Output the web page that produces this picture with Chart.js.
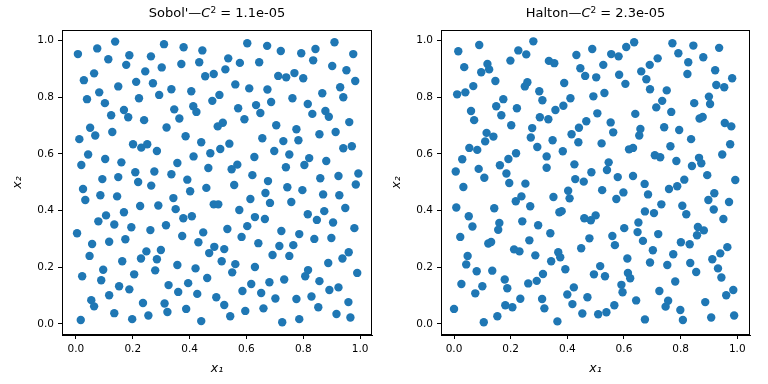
<!DOCTYPE html>
<html>
<head>
<meta charset="utf-8">
<script src="https://cdn.jsdelivr.net/npm/chart.js@4/dist/chart.umd.min.js"></script>
<style>
  html, body { margin: 0; padding: 0; background: #fff; }
  #wrap { position: relative; width: 768px; height: 384px; }
  canvas { position: absolute; top: 0; }
  #c1 { left: 0; }
  #c2 { left: 384px; }
</style>
</head>
<body>
<div id="wrap">
  <canvas id="c1" width="384" height="384"></canvas>
  <canvas id="c2" width="384" height="384"></canvas>
</div>
<script>
// ---- Data ----
const tickValues = [0.0, 0.2, 0.4, 0.6, 0.8, 1.0];

const sobolTitle = { name: "Sobol'", value: "1.1e-05" };
const haltonTitle = { name: "Halton", value: "2.3e-05" };

const sobolX = [
  0.138,0.075,0.007,0.310,0.188,0.114,0.264,0.177,0.302,0.244,0.064,0.028,0.212,0.271,0.149,0.082,0.293,0.039,0.222,0.102,
  0.169,0.124,0.184,0.240,0.319,0.050,0.068,0.012,0.128,0.201,0.230,0.251,0.285,0.043,0.103,0.019,0.160,0.209,0.276,0.093,
  0.149,0.219,
  0.379,0.445,0.603,0.673,0.371,0.434,0.536,0.577,0.645,0.455,0.485,0.526,0.336,0.406,0.561,0.610,0.674,0.505,0.480,0.413,
  0.424,0.346,0.364,0.571,0.634,0.649,0.687,0.593,0.517,0.499,0.386,0.441,0.656,0.540,0.508,0.473,0.414,0.628,0.357,0.466,
  0.548,0.568,0.336,0.392,0.621,0.557,0.676,
  0.721,0.793,0.843,0.910,0.976,0.835,0.902,0.952,0.983,0.712,0.740,0.769,0.800,0.930,0.867,0.941,0.762,0.816,0.832,0.878,
  0.890,0.962,0.705,0.776,0.857,0.914,0.730,0.783,0.698,0.751,0.941,0.971,0.821,0.804,0.881,0.739,0.860,0.924,0.994,0.985,
  0.265,0.025,0.033,0.086,0.145,0.226,0.290,0.106,0.079,0.169,0.135,0.195,0.262,0.317,0.004,0.057,0.117,0.174,0.048,0.163,
  0.229,0.248,0.285,0.299,0.096,0.022,0.089,0.205,0.279,0.152,0.188,0.326,0.117,0.054,0.064,0.236,0.312,0.322,0.135,0.198,
  0.255,0.017,
  0.459,0.402,0.343,0.351,0.485,0.501,0.614,0.667,0.683,0.575,0.378,0.408,0.630,0.665,0.603,0.533,0.448,0.374,0.431,0.583,
  0.642,0.487,0.469,0.522,0.692,0.513,0.561,0.550,0.630,0.357,0.421,0.462,0.395,0.360,0.427,0.617,0.586,0.652,0.681,0.494,
  0.522,0.388,0.543,0.596,0.660,0.441,
  0.744,0.797,0.870,0.927,0.758,0.948,0.816,0.848,0.874,0.905,0.980,0.723,0.786,0.839,0.899,0.716,0.765,0.751,0.960,0.938,
  0.888,0.817,0.807,0.990,0.733,0.857,0.892,0.924,0.702,0.776,0.829,0.959,0.853,0.917,0.966,0.726,0.786
];
const sobolY = [
  0.996,0.972,0.952,0.987,0.948,0.934,0.944,0.914,0.905,0.891,0.884,0.860,0.854,0.849,0.838,0.817,0.808,0.793,0.796,0.779,
  0.755,0.736,0.729,0.719,0.693,0.692,0.665,0.652,0.677,0.634,0.622,0.634,0.610,0.598,0.582,0.561,0.570,0.535,0.538,0.511,
  0.518,0.501,
  0.976,0.965,0.990,0.981,0.917,0.923,0.937,0.921,0.923,0.874,0.882,0.898,0.828,0.821,0.845,0.831,0.827,0.808,0.787,0.768,
  0.748,0.757,0.725,0.761,0.772,0.744,0.783,0.722,0.710,0.697,0.662,0.641,0.655,0.636,0.617,0.602,0.591,0.589,0.568,0.550,
  0.546,0.562,0.528,0.509,0.525,0.490,0.504,
  0.963,0.955,0.970,0.994,0.952,0.930,0.910,0.895,0.857,0.875,0.870,0.885,0.867,0.835,0.814,0.800,0.796,0.776,0.741,0.751,
  0.731,0.712,0.701,0.687,0.669,0.677,0.645,0.648,0.610,0.598,0.620,0.627,0.585,0.561,0.575,0.553,0.514,0.522,0.531,0.492,
  0.488,0.476,0.437,0.454,0.450,0.416,0.418,0.383,0.362,0.394,0.351,0.341,0.331,0.348,0.320,0.282,0.290,0.299,0.240,0.221,
  0.231,0.256,0.228,0.261,0.191,0.168,0.154,0.175,0.189,0.133,0.122,0.137,0.101,0.084,0.062,0.074,0.072,0.042,0.038,0.017,
  0.030,0.014,
  0.480,0.468,0.444,0.405,0.422,0.422,0.441,0.462,0.427,0.402,0.373,0.380,0.377,0.370,0.345,0.335,0.323,0.310,0.288,0.307,
  0.285,0.272,0.250,0.264,0.243,0.221,0.211,0.182,0.201,0.208,0.196,0.162,0.144,0.113,0.106,0.141,0.116,0.109,0.147,0.094,
  0.067,0.053,0.027,0.046,0.055,0.010,
  0.482,0.472,0.457,0.454,0.430,0.409,0.387,0.367,0.398,0.358,0.338,0.328,0.317,0.300,0.303,0.275,0.278,0.240,0.253,0.231,
  0.215,0.190,0.168,0.180,0.157,0.151,0.120,0.129,0.090,0.088,0.097,0.077,0.059,0.035,0.023,0.006,0.017
];

const haltonX = [
  0.089,0.015,0.280,0.227,0.255,0.199,0.036,0.118,0.124,0.096,0.146,0.259,0.250,0.068,0.040,0.011,0.301,0.312,0.174,0.149,
  0.222,0.060,0.167,0.071,0.303,0.202,0.276,0.115,0.139,0.110,0.271,0.054,0.082,0.294,0.029,0.219,0.192,0.162,0.087,0.006,
  0.185,0.107,0.327,0.327,0.195,0.252,
  0.488,0.608,0.636,0.432,0.555,0.581,0.335,0.354,0.527,0.446,0.463,0.502,0.583,0.605,0.661,0.679,0.389,0.692,0.492,0.531,
  0.411,0.386,0.358,0.333,0.506,0.640,0.467,0.553,0.441,0.658,0.562,0.654,0.415,0.348,0.439,0.521,0.618,0.632,0.384,0.425,
  0.546,0.540,0.485,0.578,0.632,0.428,0.458,0.673,
  0.771,0.845,0.936,0.792,0.880,0.719,0.691,0.827,0.824,0.922,0.982,0.751,0.926,0.954,0.900,0.904,0.848,0.735,0.714,0.767,
  0.867,0.878,0.956,0.979,0.742,0.795,0.837,0.975,0.764,0.947,0.709,0.728,0.785,0.865,0.873,0.840,0.894,0.813,0.993,
  0.033,0.008,0.142,0.218,0.238,0.269,0.052,0.065,0.160,0.156,0.241,0.297,0.022,0.121,0.131,0.266,0.212,0.231,0.287,0.048,
  0.043,0.080,0.135,0.314,0.179,0.188,0.026,0.100,0.075,0.262,0.292,0.234,0.311,0.181,0.206,0.000,0.319,0.153,0.105,
  0.523,0.403,0.351,0.408,0.573,0.598,0.685,0.372,0.380,0.460,0.483,0.500,0.674,0.340,0.478,0.601,0.559,0.568,0.651,0.648,
  0.667,0.449,0.343,0.368,0.375,0.692,0.393,0.494,0.516,0.533,0.612,0.614,0.622,0.591,0.595,0.423,0.400,0.471,0.643,0.418,
  0.566,0.453,0.509,0.538,0.365,0.674,
  0.759,0.788,0.732,0.706,0.806,0.820,0.919,0.898,0.917,0.971,0.951,0.861,0.882,0.858,0.721,0.801,0.832,0.702,0.774,0.753,
  0.834,0.855,0.965,0.940,0.912,0.932,0.944,0.781,0.725,0.986,0.961,0.756,0.747,0.887,0.799,0.808,0.908,0.989
];
const haltonY = [
  0.984,0.962,0.997,0.965,0.951,0.929,0.906,0.917,0.898,0.888,0.857,0.853,0.838,0.839,0.817,0.810,0.821,0.789,0.793,0.768,
  0.761,0.751,0.736,0.719,0.729,0.701,0.691,0.674,0.661,0.644,0.658,0.621,0.614,0.624,0.581,0.602,0.582,0.560,0.547,0.538,
  0.531,0.516,0.591,0.551,0.497,0.495,
  0.970,0.977,0.994,0.949,0.952,0.944,0.928,0.920,0.914,0.902,0.875,0.870,0.879,0.847,0.891,0.863,0.850,0.828,0.803,0.815,
  0.796,0.770,0.755,0.722,0.743,0.741,0.715,0.711,0.692,0.688,0.676,0.665,0.669,0.648,0.641,0.637,0.616,0.621,0.609,0.563,
  0.570,0.543,0.535,0.518,0.522,0.511,0.502,0.494,
  0.990,0.982,0.974,0.955,0.941,0.937,0.914,0.923,0.882,0.895,0.867,0.824,0.843,0.835,0.802,0.776,0.779,0.787,0.764,0.748,
  0.725,0.730,0.709,0.697,0.694,0.684,0.652,0.634,0.627,0.598,0.595,0.588,0.575,0.586,0.567,0.557,0.525,0.509,0.508,
  0.483,0.411,0.408,0.433,0.450,0.415,0.380,0.344,0.356,0.332,0.362,0.348,0.307,0.284,0.289,0.295,0.263,0.256,0.242,0.240,
  0.210,0.186,0.188,0.176,0.157,0.126,0.141,0.133,0.108,0.143,0.152,0.089,0.088,0.066,0.059,0.053,0.055,0.027,0.006,
  0.472,0.470,0.448,0.443,0.441,0.464,0.457,0.394,0.398,0.373,0.366,0.383,0.397,0.320,0.302,0.338,0.310,0.278,0.358,0.324,
  0.293,0.267,0.221,0.253,0.235,0.217,0.193,0.175,0.204,0.168,0.231,0.180,0.161,0.138,0.112,0.129,0.104,0.094,0.083,0.070,
  0.066,0.037,0.034,0.041,0.009,0.016,
  0.476,0.486,0.422,0.391,0.417,0.387,0.461,0.437,0.404,0.430,0.370,0.342,0.330,0.313,0.317,0.288,0.281,0.260,0.246,0.208,
  0.215,0.183,0.271,0.249,0.228,0.196,0.164,0.150,0.116,0.120,0.101,0.082,0.061,0.077,0.049,0.014,0.023,0.030
];

// ---- Rendering ----
const FONT = "'DejaVu Sans', sans-serif";
const BLUE = '#1f77b4';

function makePoints(xs, ys) {
  return xs.map((x, i) => ({ x: x, y: ys[i] }));
}

const framePlugin = {
  id: 'frame',
  afterDraw(chart) {
    const a = chart.chartArea;
    const ctx = chart.ctx;
    ctx.save();
    ctx.strokeStyle = '#000';
    ctx.lineWidth = 1;
    ctx.strokeRect(Math.round(a.left) + 0.5, Math.round(a.top) + 0.5,
                   Math.round(a.right - a.left) - 1, Math.round(a.bottom - a.top) - 1);
    ctx.restore();
  }
};

const titlePlugin = {
  id: 'mtitle',
  afterDraw(chart, args, opts) {
    const ctx = chart.ctx;
    const a = chart.chartArea;
    const size = 13;
    const parts = [
      { t: opts.name + '\u2014', f: `${size}px ${FONT}`, dy: 0 },
      { t: 'C', f: `italic ${size}px ${FONT}`, dy: 0 },
      { t: '2', f: `${Math.round(size * 0.7)}px ${FONT}`, dy: -4.5 },
      { t: ' = ' + opts.value, f: `${size}px ${FONT}`, dy: 0 }
    ];
    ctx.save();
    let total = 0;
    parts.forEach(p => { ctx.font = p.f; p.w = ctx.measureText(p.t).width; total += p.w; });
    let x = (a.left + a.right) / 2 - total / 2;
    const y = opts.y;
    ctx.fillStyle = '#000';
    ctx.textBaseline = 'alphabetic';
    ctx.textAlign = 'left';
    parts.forEach(p => { ctx.font = p.f; ctx.fillText(p.t, x, y + p.dy); x += p.w; });
    ctx.restore();
  }
};

function buildChart(canvasId, xs, ys, title, cfg) {
  const tickFont = { family: FONT, size: 10.5 };
  const labelFont = { family: FONT, size: 12.5, style: 'italic' };
  return new Chart(document.getElementById(canvasId), {
    type: 'scatter',
    data: {
      datasets: [{
        data: makePoints(xs, ys),
        backgroundColor: BLUE,
        borderColor: BLUE,
        borderWidth: 0,
        pointRadius: 4.2,
        pointHoverRadius: 4.2
      }]
    },
    options: {
      responsive: false,
      animation: false,
      devicePixelRatio: 1,
      layout: { padding: { left: 0, right: cfg.padRight, top: 30, bottom: 0 } },
      plugins: {
        legend: { display: false },
        tooltip: { enabled: false },
        title: { display: false },
        mtitle: { name: title.name, value: title.value, y: 17 }
      },
      scales: {
        x: {
          type: 'linear',
          min: cfg.xmin, max: cfg.xmax,
          afterBuildTicks: s => { s.ticks = tickValues.map(v => ({ value: v })); },
          afterFit: s => { s.height = 49; },
          ticks: { callback: v => Number(v).toFixed(1), font: tickFont, color: '#000', padding: 4, maxRotation: 0, autoSkip: false },
          grid: { drawOnChartArea: false, drawTicks: true, tickLength: 4, color: '#000', tickWidth: 1 },
          border: { display: true, color: '#000', width: 1 },
          title: { display: true, text: 'x\u2081', font: labelFont, color: '#000', padding: { top: 0, bottom: 8 } }
        },
        y: {
          type: 'linear',
          min: -0.039, max: 1.037,
          afterBuildTicks: s => { s.ticks = tickValues.map(v => ({ value: v })); },
          afterFit: s => { s.width = cfg.yWidth; },
          ticks: { callback: v => Number(v).toFixed(1), font: tickFont, color: '#000', padding: 4, autoSkip: false },
          grid: { drawOnChartArea: false, drawTicks: true, tickLength: 4, color: '#000', tickWidth: 1 },
          border: { display: true, color: '#000', width: 1 },
          title: { display: true, text: 'x\u2082', font: labelFont, color: '#000', padding: { top: cfg.yTitlePad, bottom: 0 } }
        }
      }
    },
    plugins: [framePlugin, titlePlugin]
  });
}

buildChart('c1', sobolX, sobolY, sobolTitle,
  { xmin: -0.049, xmax: 1.042, padRight: 12, yWidth: 62, yTitlePad: 10 });
buildChart('c2', haltonX, haltonY, haltonTitle,
  { xmin: -0.046, xmax: 1.045, padRight: 18, yWidth: 57, yTitlePad: 5 });
</script>
</body>
</html>
